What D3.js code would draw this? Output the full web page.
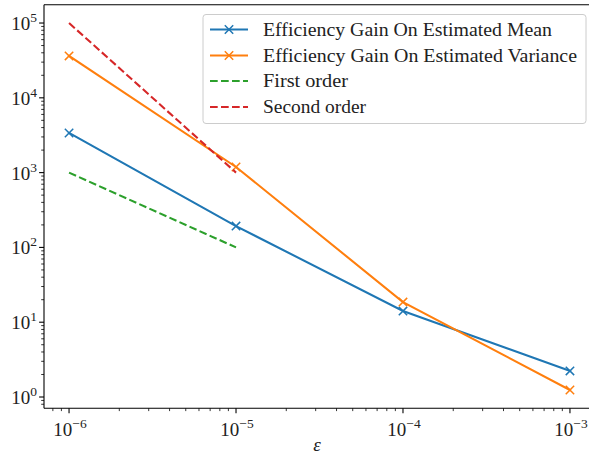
<!DOCTYPE html>
<html>
<head>
<meta charset="utf-8">
<script src="https://cdn.jsdelivr.net/npm/d3@7"></script>
</head>
<body style="margin:0;background:#fff">
<svg id="chart" width="589" height="456"></svg>
<script>
const epsilons = [1e-6, 1e-5, 1e-4, 1e-3];
const meanGain = [3390, 193, 14.1, 2.23];
const varianceGain = [36300, 1190, 18.6, 1.24];
const firstOrderX = [1e-6, 1e-5];
const firstOrderY = [1000, 100];
const secondOrderX = [1e-6, 1e-5];
const secondOrderY = [100000, 1000];
const xTickExps = [-6, -5, -4, -3];
const yTickExps = [0, 1, 2, 3, 4, 5];
const legendLabels = ["Efficiency Gain On Estimated Mean", "Efficiency Gain On Estimated Variance", "First order", "Second order"];

const svg = d3.select("#chart");
const L = 44, R = 595, T = 4.7, B = 408.3;
const x = d3.scaleLog().domain([Math.pow(10, -6.15), Math.pow(10, -2.85)]).range([L, R]);
const y = d3.scaleLog().domain([Math.pow(10, -0.151), Math.pow(10, 5.245)]).range([B, T]);

svg.append("defs").append("clipPath").attr("id", "clip")
  .append("rect").attr("x", L).attr("y", T).attr("width", R - L).attr("height", B - T);

const plot = svg.append("g").attr("clip-path", "url(#clip)");
const line = d3.line().x(d => x(d[0])).y(d => y(d[1]));

const series = [
  {xs: epsilons, ys: meanGain, color: "#1f77b4", dash: null, marker: true},
  {xs: epsilons, ys: varianceGain, color: "#ff7f0e", dash: null, marker: true},
  {xs: firstOrderX, ys: firstOrderY, color: "#2ca02c", dash: "7.7,3.3", marker: false},
  {xs: secondOrderX, ys: secondOrderY, color: "#d62728", dash: "7.7,3.3", marker: false}
];

const ms = 4.2;
function drawX(g, cx, cy, color) {
  g.append("path").attr("d", `M${cx-ms},${cy-ms}L${cx+ms},${cy+ms}M${cx-ms},${cy+ms}L${cx+ms},${cy-ms}`)
    .attr("stroke", color).attr("stroke-width", 1.5).attr("fill", "none");
}

function txt(g, xx, yy, size) {
  return g.append("text").attr("x", xx).attr("y", yy).attr("font-size", size)
    .style("font-family", '"Liberation Serif"').attr("fill", "#222");
}

series.forEach(s => {
  const pts = s.xs.map((v, i) => [v, s.ys[i]]);
  plot.append("path").attr("d", line(pts)).attr("fill", "none")
    .attr("stroke", s.color).attr("stroke-width", 2.08)
    .attr("stroke-dasharray", s.dash).attr("stroke-linecap", s.dash ? "butt" : "square");
  if (s.marker) pts.forEach(p => drawX(plot, x(p[0]), y(p[1]), s.color));
});

// axes frame
const frame = svg.append("g");
[[L, T, R, T], [L, B, R, B], [L, T, L, B], [R, T, R, B]].forEach(c =>
  frame.append("line").attr("x1", c[0]).attr("y1", c[1]).attr("x2", c[2]).attr("y2", c[3]).attr("stroke", "#000").attr("stroke-width", 1.1));

// x ticks
const xMajor = xTickExps.map(e => Math.pow(10, e));
const xMinor = [];
for (let e = -7; e <= -3; e++) for (let m = 2; m <= 9; m++) {
  const v = m * Math.pow(10, e);
  if (v >= x.domain()[0] && v <= x.domain()[1]) xMinor.push(v);
}
const gx = svg.append("g");
xMinor.forEach(v => gx.append("line").attr("x1", x(v)).attr("x2", x(v)).attr("y1", B).attr("y2", B + 2.8).attr("stroke", "#000").attr("stroke-width", 0.8));
xMajor.forEach((v, i) => {
  gx.append("line").attr("x1", x(v)).attr("x2", x(v)).attr("y1", B).attr("y2", B + 4.9).attr("stroke", "#000").attr("stroke-width", 1.1);
  const t = txt(gx, x(v) + 1, 436, 19).attr("text-anchor", "middle");
  t.append("tspan").text("10");
  t.append("tspan").attr("dy", -8).attr("font-size", 13.5).text("\u2212" + Math.abs(xTickExps[i]));
});

// y ticks
const yMinor = [];
for (let e = -1; e <= 5; e++) for (let m = 2; m <= 9; m++) {
  const v = m * Math.pow(10, e);
  if (v >= y.domain()[0] && v <= y.domain()[1]) yMinor.push(v);
}
const gy = svg.append("g");
yMinor.forEach(v => gy.append("line").attr("x1", L - 2.8).attr("x2", L).attr("y1", y(v)).attr("y2", y(v)).attr("stroke", "#000").attr("stroke-width", 0.8));
yTickExps.forEach(e => {
  const v = Math.pow(10, e);
  gy.append("line").attr("x1", L - 4.9).attr("x2", L).attr("y1", y(v)).attr("y2", y(v)).attr("stroke", "#000").attr("stroke-width", 1.1);
  const t = txt(gy, 37, y(v) + 7, 19).attr("text-anchor", "end");
  t.append("tspan").text("10");
  t.append("tspan").attr("dy", -8).attr("font-size", 13.5).text(String(e));
});

// x label
txt(svg, 317, 451, 19).attr("text-anchor", "middle").style("font-style", "italic").text("\u03b5");

// legend
const lg = svg.append("g");
lg.append("rect").attr("x", 203).attr("y", 14.5).attr("width", 383).attr("height", 109).attr("rx", 3)
  .attr("fill", "#fff").attr("fill-opacity", 0.8).attr("stroke", "#cccccc").attr("stroke-width", 1);
const rowY = [29.5, 55.5, 81, 107];
const textLens = [289, 314, 85, 103];
series.forEach((s, i) => {
  const yy = rowY[i];
  lg.append("line").attr("x1", 210).attr("x2", 248).attr("y1", yy).attr("y2", yy)
    .attr("stroke", s.color).attr("stroke-width", 2.08).attr("stroke-dasharray", s.dash);
  if (s.marker) drawX(lg, 229, yy, s.color);
  txt(lg, 263, yy + 6, 19).attr("textLength", textLens[i]).attr("lengthAdjust", "spacingAndGlyphs").text(legendLabels[i]);
});
</script>
</body>
</html>
